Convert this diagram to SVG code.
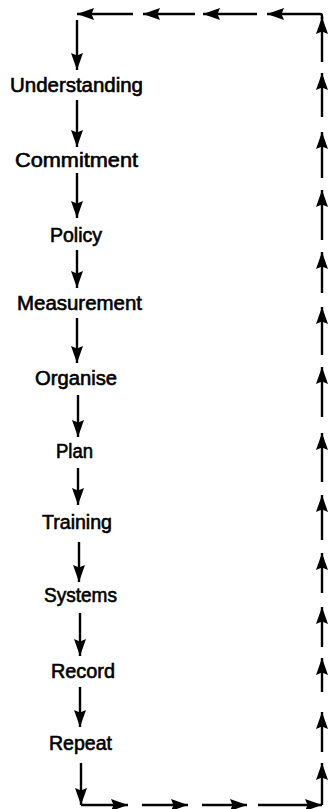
<svg xmlns="http://www.w3.org/2000/svg" width="330" height="809" viewBox="0 0 330 809">
  <defs>
    <marker id="head" markerUnits="userSpaceOnUse" markerWidth="20" markerHeight="14" refX="17" refY="6" orient="auto">
      <path d="M0,0 L17,6 L0,12 L2.5,6 Z" fill="#000"/>
    </marker>
  </defs>
  <style>
    .step { font-family: "Liberation Sans", Arial, sans-serif; font-size: 19.5px; fill: #000; stroke: #000; stroke-width: 0.6px; }
    .link { stroke: #000; stroke-width: 2.4; fill: none; marker-end: url(#head); }
  </style>
  <rect width="330" height="809" fill="#fff"/>

  <!-- process steps -->
  <g id="understanding"><text class="step" x="10" y="92" textLength="133" lengthAdjust="spacingAndGlyphs">Understanding</text></g>
  <g id="commitment"><text class="step" x="15" y="167" textLength="123" lengthAdjust="spacingAndGlyphs">Commitment</text></g>
  <g id="policy"><text class="step" x="50" y="242" textLength="52" lengthAdjust="spacingAndGlyphs">Policy</text></g>
  <g id="measurement"><text class="step" x="17" y="310" textLength="125" lengthAdjust="spacingAndGlyphs">Measurement</text></g>
  <g id="organise"><text class="step" x="35" y="385" textLength="82" lengthAdjust="spacingAndGlyphs">Organise</text></g>
  <g id="plan"><text class="step" x="56" y="458" textLength="37" lengthAdjust="spacingAndGlyphs">Plan</text></g>
  <g id="training"><text class="step" x="42" y="529" textLength="70" lengthAdjust="spacingAndGlyphs">Training</text></g>
  <g id="systems"><text class="step" x="44" y="602" textLength="73" lengthAdjust="spacingAndGlyphs">Systems</text></g>
  <g id="record"><text class="step" x="51" y="678" textLength="64" lengthAdjust="spacingAndGlyphs">Record</text></g>
  <g id="repeat"><text class="step" x="49" y="750" textLength="63" lengthAdjust="spacingAndGlyphs">Repeat</text></g>

  <!-- feedback loop and step links -->
  <g id="connectors">
    <!-- top row, pointing left -->
    <line class="link" x1="133" y1="14" x2="77" y2="14"/>
    <line class="link" x1="195" y1="14" x2="143" y2="14"/>
    <line class="link" x1="257" y1="14" x2="203" y2="14"/>
    <path class="link" d="M322,19 L322,16 Q322,14 320,14 L267,14"/>
    <!-- left column, pointing down -->
    <line class="link" x1="77" y1="20" x2="77" y2="70"/>
    <line class="link" x1="77" y1="100" x2="77" y2="147"/>
    <line class="link" x1="77" y1="173" x2="77" y2="218"/>
    <line class="link" x1="77" y1="250" x2="77" y2="288"/>
    <line class="link" x1="77" y1="318" x2="77" y2="363"/>
    <line class="link" x1="78" y1="395" x2="78" y2="437"/>
    <line class="link" x1="78" y1="468" x2="78" y2="505"/>
    <line class="link" x1="79" y1="542" x2="79" y2="582"/>
    <line class="link" x1="80" y1="613" x2="80" y2="656"/>
    <line class="link" x1="80" y1="687" x2="80" y2="727"/>
    <line class="link" x1="81" y1="763" x2="81" y2="805"/>
    <!-- bottom row, pointing right -->
    <line class="link" x1="81" y1="805" x2="128" y2="805"/>
    <line class="link" x1="142" y1="805" x2="188" y2="805"/>
    <line class="link" x1="202" y1="805" x2="247" y2="805"/>
    <line class="link" x1="258" y1="805" x2="322" y2="805"/>
    <!-- right column, pointing up -->
    <line class="link" x1="322" y1="62" x2="322" y2="17"/>
    <line class="link" x1="322" y1="117" x2="322" y2="73"/>
    <line class="link" x1="322" y1="178" x2="322" y2="132"/>
    <line class="link" x1="322" y1="240" x2="322" y2="190"/>
    <line class="link" x1="322" y1="293" x2="322" y2="252"/>
    <line class="link" x1="322" y1="355" x2="322" y2="307"/>
    <line class="link" x1="322" y1="417" x2="322" y2="367"/>
    <line class="link" x1="322" y1="482" x2="322" y2="433"/>
    <line class="link" x1="322" y1="540" x2="322" y2="495"/>
    <line class="link" x1="322" y1="593" x2="322" y2="553"/>
    <line class="link" x1="322" y1="647" x2="322" y2="607"/>
    <line class="link" x1="322" y1="692" x2="322" y2="658"/>
    <line class="link" x1="322" y1="752" x2="322" y2="712"/>
    <line class="link" x1="322" y1="805" x2="322" y2="763"/>
  </g>
</svg>
